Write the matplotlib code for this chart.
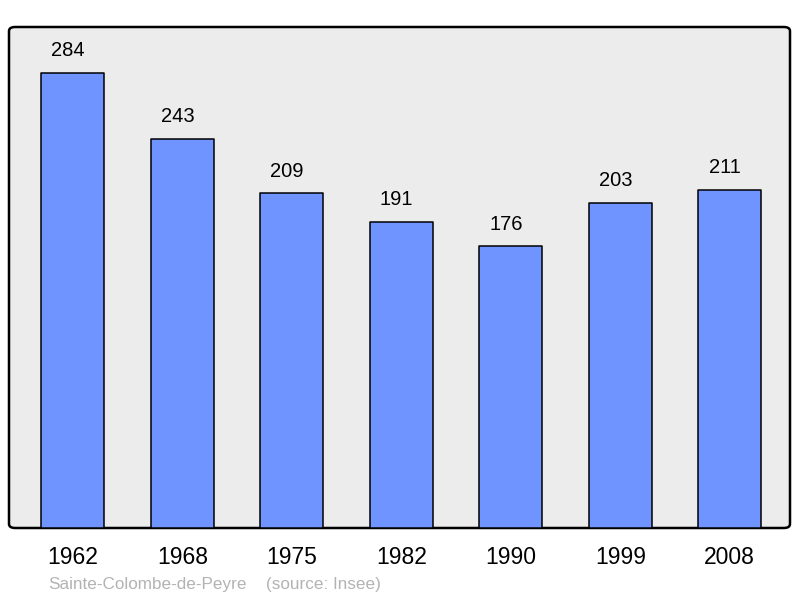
import matplotlib.pyplot as plt
from matplotlib.patches import FancyBboxPatch

years = ["1962", "1968", "1975", "1982", "1990", "1999", "2008"]
population = [284, 243, 209, 191, 176, 203, 211]
town = "Sainte-Colombe-de-Peyre"
source = "(source: Insee)"

plt.rcParams["font.family"] = ["Liberation Sans", "DejaVu Sans"]

fig = plt.figure(figsize=(8, 5.98), dpi=100)
ax = fig.add_axes([9 / 800, 70 / 598, 781 / 800, 501 / 598])
ax.set_xlim(-0.584, 6.55)
ax.set_ylim(0, 312.7)
ax.axis("off")

# rounded grey frame
frame = FancyBboxPatch(
    (0, 0), 1, 1,
    boxstyle="round,pad=0,rounding_size=0.008",
    transform=ax.transAxes,
    facecolor="#ececec", edgecolor="black", linewidth=1.8,
    clip_on=False, zorder=0,
)
ax.add_patch(frame)

x = range(len(years))
bars = ax.bar(x, population, width=0.575, color="#7094ff",
              edgecolor="black", linewidth=1.1, zorder=2)
for b in bars:
    b.set_joinstyle("round")

for xi, v in zip(x, population):
    ax.annotate(str(v), (xi, v), xytext=(-3.5, 9), textcoords="offset points",
                ha="center", va="bottom", fontsize=14.5, color="black")

for xi, y in zip(x, years):
    ax.annotate(y, (xi, 0), xytext=(0, -21), textcoords="offset points",
                ha="center", va="center", fontsize=16.5, color="black",
                annotation_clip=False)

fig.text(48 / 800, 1 - 584 / 598, town, ha="left", va="center",
         fontsize=12.3, color="#b3b3b3")
fig.text(266 / 800, 1 - 584 / 598, source, ha="left", va="center",
         fontsize=12.3, color="#b3b3b3")

fig.savefig("out.png", dpi=100)
